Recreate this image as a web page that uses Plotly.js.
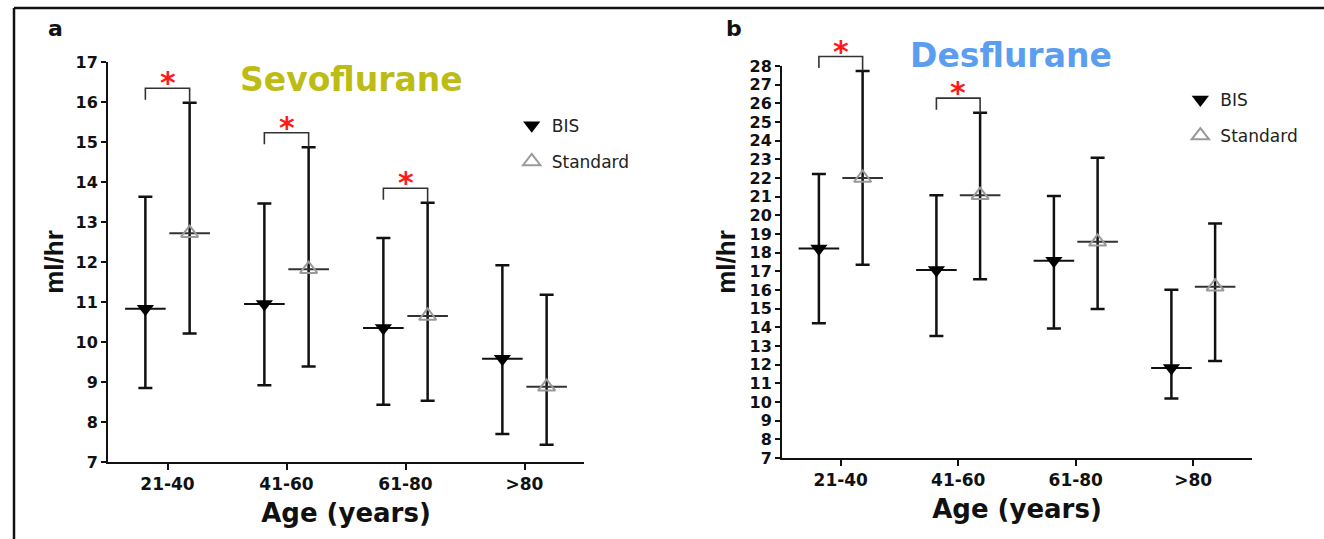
<!DOCTYPE html>
<html>
<head>
<meta charset="utf-8">
<script src="https://cdn.plot.ly/plotly-3.0.1.min.js"></script>
<style>html,body{margin:0;padding:0;background:#fff;}#chart{width:1324px;height:539px;}</style>
</head>
<body>
<div id="chart"></div>
<script>
// ---- data ----
const categories = ['21-40', '41-60', '61-80', '>80'];

const sevoBisMean = [10.83, 10.95, 10.35, 9.58];
const sevoBisHi   = [13.63, 13.46, 12.60, 11.92];
const sevoBisLo   = [8.85, 8.92, 8.43, 7.70];
const sevoStdMean = [12.72, 11.82, 10.65, 8.88];
const sevoStdHi   = [15.98, 14.87, 13.48, 11.18];
const sevoStdLo   = [10.21, 9.39, 8.53, 7.43];
const sevoSignificant = [true, true, true, false];

const desBisMean = [18.22, 17.07, 17.57, 11.82];
const desBisHi   = [22.21, 21.08, 21.03, 16.02];
const desBisLo   = [14.22, 13.53, 13.94, 10.19];
const desStdMean = [22.00, 21.08, 18.58, 16.18];
const desStdHi   = [27.73, 25.50, 23.08, 19.56];
const desStdLo   = [17.35, 16.57, 14.98, 12.19];
const desSignificant = [true, true, false, false];

// ---- layout constants ----
const W = 1324, H = 539;
const OFF = 0.186;
const BOLD = 'DejaVu Sans';
const panels = [
  {xa: 'x', ya: 'y', xaxis: 'xaxis', yaxis: 'yaxis', legend: 'legend',
   dx: [108 / W, 584 / W], dy: [1 - 462 / H, 1 - 62 / H], yr: [7, 17],
   bisMean: sevoBisMean, bisHi: sevoBisHi, bisLo: sevoBisLo,
   stdMean: sevoStdMean, stdHi: sevoStdHi, stdLo: sevoStdLo, sig: sevoSignificant,
   title: 'Sevoflurane', titleColor: '#bcbc14', titleX: 351, titleY: 79,
   letter: 'a', letterX: 55, legX: 0.3865, legY: 0.80, ytStand: 4},
  {xa: 'x2', ya: 'y2', xaxis: 'xaxis2', yaxis: 'yaxis2', legend: 'legend2',
   dx: [782 / W, 1252 / W], dy: [1 - 458 / H, 1 - 66 / H], yr: [7, 28],
   bisMean: desBisMean, bisHi: desBisHi, bisLo: desBisLo,
   stdMean: desStdMean, stdHi: desStdHi, stdLo: desStdLo, sig: desSignificant,
   title: 'Desflurane', titleColor: '#5b9ef0', titleX: 1011, titleY: 55,
   letter: 'b', letterX: 734, legX: 0.8915, legY: 0.848, ytStand: 6}
];

const traces = [];
const annotations = [];
const shapes = [
  {type: 'line', xref: 'paper', yref: 'paper', x0: 14 / W, x1: 1, y0: 1 - 8 / H, y1: 1 - 8 / H,
   line: {color: '#111', width: 2.5}},
  {type: 'line', xref: 'paper', yref: 'paper', x0: 14 / W, x1: 14 / W, y0: 0, y1: 1 - 8 / H,
   line: {color: '#111', width: 2.5}}
];
const layout = {
  width: W, height: H,
  margin: {l: 0, r: 0, t: 0, b: 0},
  paper_bgcolor: '#ffffff', plot_bgcolor: '#ffffff',
  showlegend: true,
  shapes: shapes,
  annotations: annotations
};

panels.forEach((p, pi) => {
  const xs = categories.map((c, i) => i);
  const xb = xs.map(i => i - OFF);
  const xsd = xs.map(i => i + OFF);
  const span = p.yr[1] - p.yr[0];
  const pxPerUnit = (p.dy[1] - p.dy[0]) * H / span;
  const toDomain = v => (v - p.yr[0]) / span;   // axis value -> fraction of the y axis

  // whiskers + mean line
  const whisk = (x, mean, hi, lo, col) => ({
    type: 'scatter', mode: 'markers', xaxis: p.xa, yaxis: p.ya, x: x, y: mean,
    showlegend: false, hoverinfo: 'skip', cliponaxis: false,
    marker: {symbol: 'line-ew', size: 29, line: {width: 2, color: col}},
    error_y: {type: 'data', symmetric: false,
      array: hi.map((v, i) => v - mean[i]), arrayminus: lo.map((v, i) => mean[i] - v),
      color: '#111', thickness: 2.5, width: 7}
  });
  traces.push(whisk(xb, p.bisMean, p.bisHi, p.bisLo, '#111'));
  traces.push(whisk(xsd, p.stdMean, p.stdHi, p.stdLo, '#333'));

  // markers (with legend)
  traces.push({type: 'scatter', mode: 'markers', name: 'BIS', legend: p.legend, legendgroup: 'bis' + pi,
    xaxis: p.xa, yaxis: p.ya, x: xb, y: p.bisMean, cliponaxis: false,
    marker: {symbol: 'triangle-down', size: 15, color: '#000', line: {width: 0}}});
  traces.push({type: 'scatter', mode: 'markers', name: 'Standard', legend: p.legend, legendgroup: 'std' + pi,
    xaxis: p.xa, yaxis: p.ya, x: xsd, y: p.stdMean, cliponaxis: false,
    marker: {symbol: 'triangle-up-open', size: 15, color: '#9a9a9a', line: {width: 2, color: '#9a9a9a'}}});

  // significance brackets (x in data units, y as a fraction of the y axis so they may rise above it)
  p.sig.forEach((s, i) => {
    if (!s) return;
    const top = p.stdHi[i] + 14.5 / pxPerUnit;
    const leftEnd = top - 11.5 / pxPerUnit;
    const yref = p.ya + ' domain';
    shapes.push({type: 'path', xref: p.xa, yref: yref,
      path: 'M' + (i - OFF) + ',' + toDomain(leftEnd) +
            ' L' + (i - OFF) + ',' + toDomain(top) +
            ' L' + (i + OFF) + ',' + toDomain(top) +
            ' L' + (i + OFF) + ',' + toDomain(p.stdHi[i]),
      line: {color: '#333', width: 1.6}});
    annotations.push({xref: p.xa, yref: yref, x: i, y: toDomain(top), text: '*', showarrow: false,
      xanchor: 'center', yanchor: 'bottom', yshift: -14,
      font: {family: BOLD, size: 30, color: '#ff1a1a', weight: 'bold'}});
  });

  layout[p.xaxis] = {
    domain: p.dx, anchor: p.ya, range: [-0.5, 3.5],
    tickmode: 'array', tickvals: xs, ticktext: categories,
    showgrid: false, zeroline: false, showline: true, linecolor: '#111', linewidth: 2,
    ticks: 'outside', ticklen: 6, tickwidth: 2, tickcolor: '#111',
    tickfont: {family: BOLD, size: 17, color: '#111', weight: 'bold'},
    title: {text: 'Age (years)', standoff: 10,
      font: {family: BOLD, size: 26, color: '#111', weight: 'bold'}},
    fixedrange: true
  };
  layout[p.yaxis] = {
    domain: p.dy, anchor: p.xa, range: p.yr, dtick: 1, tick0: 7,
    showgrid: false, zeroline: false, showline: true, linecolor: '#111', linewidth: 2,
    ticks: 'outside', ticklen: 5, tickwidth: 2, tickcolor: '#111',
    tickfont: {family: BOLD, size: 16, color: '#111', weight: 'bold'},
    title: {text: 'ml/hr', standoff: p.ytStand,
      font: {family: 'Liberation Sans', size: 26, color: '#111', weight: 'bold'}},
    fixedrange: true
  };
  layout[p.legend] = {
    x: p.legX, y: p.legY, xanchor: 'left', yanchor: 'top',
    bgcolor: 'rgba(0,0,0,0)', borderwidth: 0, tracegroupgap: 11,
    font: {family: 'DejaVu Sans', size: 17, color: '#222'}
  };

  annotations.push({xref: 'paper', yref: 'paper', x: p.titleX / W, y: 1 - p.titleY / H,
    text: p.title, showarrow: false, xanchor: 'center', yanchor: 'middle',
    font: {family: BOLD, size: 33, color: p.titleColor, weight: 'bold'}});
  annotations.push({xref: 'paper', yref: 'paper', x: p.letterX / W, y: 1 - 28 / H,
    text: p.letter, showarrow: false, xanchor: 'center', yanchor: 'middle',
    font: {family: BOLD, size: 22, color: '#111', weight: 'bold'}});
});

Plotly.newPlot('chart', traces, layout, {staticPlot: true, displayModeBar: false});
</script>
</body>
</html>
